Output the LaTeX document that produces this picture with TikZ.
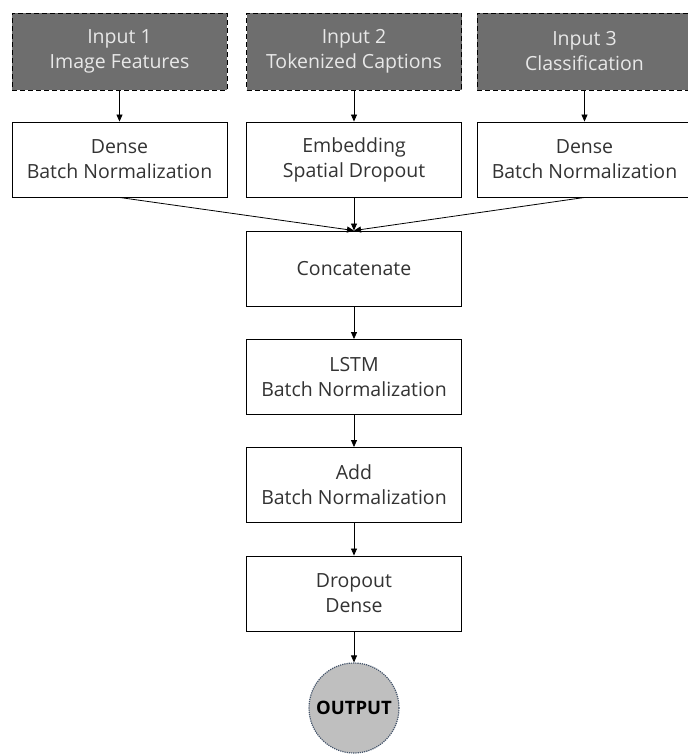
\documentclass[tikz,border=0pt]{standalone}
\usepackage{fontspec}
\setmainfont{Open Sans}
\usetikzlibrary{arrows.meta,positioning}
\definecolor{inputgray}{HTML}{6E6E6E}
\definecolor{inputtext}{HTML}{E8E8E8}
\definecolor{outgray}{HTML}{BFBFBF}
\definecolor{outedge}{HTML}{44546A}
\begin{document}
\begin{tikzpicture}[x=1pt,y=-1pt,
  inbox/.style={draw=black, dash pattern=on 5pt off 3pt, line width=0.9pt, fill=inputgray, text=inputtext,
    minimum width=215pt, minimum height=77pt, align=center, font=\fontsize{19.5}{25}\selectfont, inner sep=0pt},
  layerbox/.style={draw=black, line width=0.9pt, fill=white, text=black!80,
    minimum width=215pt, minimum height=75pt, align=center, font=\fontsize{19.5}{25}\selectfont, inner sep=0pt},
  outnode/.style={circle, draw=outedge, densely dotted, line width=1.2pt, fill=outgray,
    minimum size=90pt, inner sep=0pt, font=\bfseries\fontsize{18.5}{20}\selectfont},
  arr/.style={draw=black, line width=0.8pt, -{Triangle[length=7pt,width=6pt]}}
]
\useasboundingbox (0,0) rectangle (688,756);
\node[inbox] (in1) at (119.5,51.5) {Input 1\\Image Features};
\node[inbox] (in2) at (354,51.5) {Input 2\\Tokenized Captions};
\node[inbox] (in3) at (584.5,51.5) {Input 3\\Classification};
\node[layerbox] (d1) at (119.5,159.5) {Dense\\Batch Normalization};
\node[layerbox] (emb) at (354,159.5) {Embedding\\Spatial Dropout};
\node[layerbox] (d3) at (584.5,159.5) {Dense\\Batch Normalization};
\node[layerbox] (cat) at (354,268.5) {Concatenate};
\node[layerbox] (lstm) at (354,377) {LSTM\\Batch Normalization};
\node[layerbox] (add) at (354,485) {Add\\Batch Normalization};
\node[layerbox] (drop) at (354,593.5) {Dropout\\Dense};
\node[outnode] (out) at (354,708) {OUTPUT};
\draw[arr] (in1.south) -- (d1.north);
\draw[arr] (in2.south) -- (emb.north);
\draw[arr] (in3.south) -- (d3.north);
\draw[arr] (d1.south) -- (cat.north);
\draw[arr] (emb.south) -- (cat.north);
\draw[arr] (d3.south) -- (cat.north);
\draw[arr] (cat.south) -- (lstm.north);
\draw[arr] (lstm.south) -- (add.north);
\draw[arr] (add.south) -- (drop.north);
\draw[arr] (drop.south) -- (out.north);
\end{tikzpicture}
\end{document}
